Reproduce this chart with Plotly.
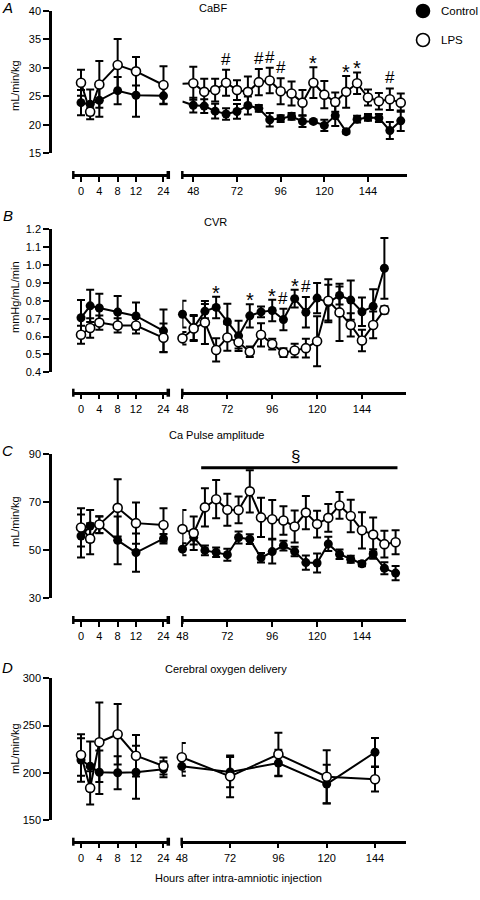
import plotly.graph_objects as go

W, H = 480, 900
FONT = "Liberation Sans, Arial, Helvetica, sans-serif"

# ---------------- data ----------------
hours_left = [0, 2, 4, 8, 12, 24]
hours_6h = [48, 54, 60, 66, 72, 78, 84, 90, 96, 102, 108, 114, 120, 126, 132, 138, 144, 150, 156, 162]
hours_daily = [48, 72, 96, 120, 144]
left_tick_hours = [0, 4, 8, 12, 24]
right_tick_hours = [48, 72, 96, 120, 144]
group_names = ["Control", "LPS"]

# Panel A: CaBF (mL/min/kg)
cabf_ctrl_left = [23.9, 23.6, 24.3, 26.0, 25.2, 25.1]
cabf_ctrl_left_sem = [2.2, 2.6, 2.9, 2.4, 3.8, 1.5]
cabf_lps_left = [27.4, 22.3, 27.1, 30.5, 29.4, 27.0]
cabf_lps_left_sem = [2.3, 0.6, 4.1, 4.6, 2.5, 3.3]
cabf_stub_hour = 42
cabf_ctrl_stub = 24.1
cabf_lps_stub = 27.2
cabf_ctrl_right = [23.45, 23.3, 22.4, 21.9, 22.35, 23.4, 22.9, 20.9, 21.1, 21.5,
                   20.6, 20.6, 19.9, 21.6, 18.8, 21.0, 21.3, 21.2, 19.0, 20.7]
cabf_ctrl_right_sem = [1.3, 1.2, 1.3, 1.0, 1.3, 1.6, 0.6, 1.2, 0.6, 0.6,
                       1.0, 0.3, 1.0, 1.8, 0.3, 0.6, 0.6, 0.7, 1.5, 1.8]
cabf_lps_right = [27.3, 25.8, 26.1, 27.4, 26.1, 25.8, 27.5, 27.8, 25.9, 25.5,
                  23.9, 27.4, 25.3, 24.0, 25.8, 27.3, 24.8, 24.15, 24.5, 23.9]
cabf_lps_right_sem = [2.9, 2.3, 2.0, 2.3, 1.75, 2.7, 2.3, 2.25, 2.3, 2.1,
                      2.2, 2.7, 2.4, 1.7, 2.8, 1.9, 1.4, 1.45, 1.9, 1.6]
cabf_sig_hours = [66, 84, 90, 96, 114, 132, 138, 156]
cabf_sig_marks = ["#", "#", "#", "#", "*", "*", "*", "#"]

# Panel B: CVR (mmHg/mL/min)
cvr_ctrl_left = [0.705, 0.772, 0.76, 0.737, 0.715, 0.632]
cvr_ctrl_left_sem = [0.10, 0.09, 0.08, 0.09, 0.075, 0.12]
cvr_lps_left = [0.61, 0.648, 0.678, 0.662, 0.662, 0.593]
cvr_lps_left_sem = [0.05, 0.055, 0.04, 0.04, 0.045, 0.08]
cvr_ctrl_right = [0.725, 0.65, 0.742, 0.763, 0.683, 0.604, 0.716, 0.738, 0.746, 0.695,
                  0.812, 0.736, 0.815, 0.79, 0.83, 0.804, 0.739, 0.769, 0.982]
cvr_ctrl_right_sem = [0.075, 0.07, 0.04, 0.06, 0.10, 0.085, 0.065, 0.03, 0.06, 0.06,
                      0.05, 0.085, 0.085, 0.10, 0.05, 0.11, 0.08, 0.095, 0.17]
cvr_lps_right = [0.59, 0.645, 0.679, 0.525, 0.595, 0.568, 0.515, 0.61, 0.558, 0.51,
                 0.522, 0.535, 0.574, 0.80, 0.735, 0.665, 0.578, 0.665, 0.749]
cvr_lps_right_sem = [0.035, 0.07, 0.12, 0.065, 0.075, 0.035, 0.03, 0.065, 0.03, 0.025,
                     0.038, 0.052, 0.14, 0.12, 0.16, 0.065, 0.06, 0.075, 0.02]
cvr_sig_hours = [66, 84, 96, 102, 108, 114]
cvr_sig_marks = ["*", "*", "*", "#", "*", "#"]

# Panel C: Ca pulse amplitude (mL/min/kg)
pulse_ctrl_left = [55.8, 60.0, 60.5, 54.0, 48.9, 54.7]
pulse_ctrl_left_sem = [9.0, 6.7, 3.5, 10.0, 8.0, 2.0]
pulse_lps_left = [59.4, 54.7, 60.6, 67.6, 61.2, 60.4]
pulse_lps_left_sem = [8.0, 6.5, 3.5, 12.0, 8.6, 7.0]
pulse_ctrl_right = [50.3, 55.3, 49.8, 49.0, 48.0, 55.2, 54.5, 46.7, 49.3, 51.8,
                    49.3, 44.7, 44.5, 52.5, 48.2, 46.1, 44.2, 48.3, 42.3, 40.3]
pulse_ctrl_right_sem = [2.5, 3.0, 2.0, 2.0, 2.5, 2.5, 2.0, 2.0, 5.0, 2.0,
                        2.0, 3.0, 4.0, 3.0, 2.0, 1.5, 1.0, 2.0, 2.5, 3.0]
pulse_lps_right = [58.7, 57.0, 67.8, 71.2, 66.8, 66.7, 74.5, 63.6, 62.8, 62.3,
                   59.8, 65.6, 60.8, 63.4, 68.6, 64.2, 58.2, 56.4, 52.4, 53.2]
pulse_lps_right_sem = [8.0, 7.0, 8.0, 8.0, 6.7, 5.6, 8.8, 8.2, 8.1, 6.0,
                       6.7, 7.0, 5.6, 5.8, 5.6, 6.8, 7.6, 7.2, 5.6, 5.0]
pulse_sig_span = [58, 163]
pulse_sig_level = 84.4
pulse_sig_mark = "§"

# Panel D: cerebral oxygen delivery (mL/min/kg)
do2_ctrl_left = [213.5, 207.0, 200.5, 200.0, 200.5, 203.8]
do2_ctrl_left_sem = [23, 26, 23, 17.5, 28, 8.5]
do2_lps_left = [218.8, 184.0, 232.3, 240.7, 218.0, 207.2]
do2_lps_left_sem = [22, 17.6, 42, 32, 22, 9]
do2_ctrl_right = [206.8, 200.8, 210.3, 188.0, 221.7]
do2_ctrl_right_sem = [10, 16, 14, 20.5, 15]
do2_lps_right = [216.4, 196.2, 219.6, 195.8, 193.1]
do2_lps_right_sem = [15, 22, 22.8, 28, 13]


def warp_left(h):
    # 0-12 h at full scale, 12-24 h at half scale (as on the original axis)
    return h if h <= 12 else 12 + (h - 12) * 0.5


def py(p):
    return 1 - p / H


def pxx(p):
    return p / W


# ---------------- layout geometry (pixels) ----------------
LEFT_DOM = [73.3, 168.3]
LEFT_RANGE = [-1.68, 19.05]
YAXIS_X = 50

panels = [
    dict(title="CaBF", title_xy=(213, 8), letter="A", letter_xy=(7, 8),
         ylabel="mL/min/kg", ylabel_y=86, ydom=(11, 153.3), yrange=[15, 40],
         yticks=[15, 20, 25, 30, 35, 40], yfmt="d", xaxis_y=175,
         rdom=[182.3, 406.7], rrange=[41.955, 165.27],
         cl=cabf_ctrl_left, cls=cabf_ctrl_left_sem, ll=cabf_lps_left, lls=cabf_lps_left_sem,
         rx=hours_6h, cr=cabf_ctrl_right, crs=cabf_ctrl_right_sem,
         lr=cabf_lps_right, lrs=cabf_lps_right_sem),
    dict(title="CVR", title_xy=(215, 222), letter="B", letter_xy=(8, 215),
         ylabel="mmHg/mL/min", ylabel_y=297, ydom=(229.3, 372.3), yrange=[0.4, 1.2],
         yticks=[0.4, 0.5, 0.6, 0.7, 0.8, 0.9, 1.0, 1.1, 1.2], yfmt=".1f", xaxis_y=392.7,
         rdom=[182.3, 405.7], rrange=[47.9, 167.4],
         cl=cvr_ctrl_left, cls=cvr_ctrl_left_sem, ll=cvr_lps_left, lls=cvr_lps_left_sem,
         rx=hours_6h[:len(cvr_ctrl_right)], cr=cvr_ctrl_right, crs=cvr_ctrl_right_sem,
         lr=cvr_lps_right, lrs=cvr_lps_right_sem),
    dict(title="Ca Pulse amplitude", title_xy=(216, 435), letter="C", letter_xy=(7, 450),
         ylabel="mL/min/kg", ylabel_y=522, ydom=(454.3, 597.7), yrange=[30, 90],
         yticks=[30, 50, 70, 90], yfmt="d", xaxis_y=620,
         rdom=[182.3, 405.7], rrange=[47.9, 167.4],
         cl=pulse_ctrl_left, cls=pulse_ctrl_left_sem, ll=pulse_lps_left, lls=pulse_lps_left_sem,
         rx=hours_6h, cr=pulse_ctrl_right, crs=pulse_ctrl_right_sem,
         lr=pulse_lps_right, lrs=pulse_lps_right_sem),
    dict(title="Cerebral oxygen delivery", title_xy=(226, 669), letter="D", letter_xy=(7, 667),
         ylabel="mL/min/kg", ylabel_y=749, ydom=(678.3, 820), yrange=[150, 300],
         yticks=[150, 200, 250, 300], yfmt="d", xaxis_y=841.7,
         rdom=[181.7, 405.7], rrange=[47.95, 159.25],
         cl=do2_ctrl_left, cls=do2_ctrl_left_sem, ll=do2_lps_left, lls=do2_lps_left_sem,
         rx=hours_daily, cr=do2_ctrl_right, crs=do2_ctrl_right_sem,
         lr=do2_lps_right, lrs=do2_lps_right_sem),
]

axis_common = dict(showline=True, linecolor="black", linewidth=2.5, ticks="outside",
                   tickcolor="black", tickwidth=2, showgrid=False, zeroline=False,
                   automargin=False,
                   tickfont=dict(family=FONT, size=11, color="black"))

ctrl_marker = dict(symbol="circle", size=9, color="black", line=dict(width=0))
lps_marker = dict(symbol="circle", size=9, color="white", line=dict(color="black", width=1.6))
line_style = dict(color="black", width=2)


def err(arr):
    return dict(type="data", array=arr, visible=True, thickness=2, width=4, color="black")


fig = go.Figure()
layout = {}
annotations = []
shapes = []

for i, p in enumerate(panels):
    yn = i + 1
    xl = 2 * i + 1
    xr = 2 * i + 2
    ykey = "yaxis" if yn == 1 else f"yaxis{yn}"
    xlkey = "xaxis" if xl == 1 else f"xaxis{xl}"
    xrkey = f"xaxis{xr}"
    yref = "y" if yn == 1 else f"y{yn}"
    xlref = "x" if xl == 1 else f"x{xl}"
    xrref = f"x{xr}"

    layout[ykey] = dict(axis_common, anchor="free", position=pxx(YAXIS_X),
                        domain=[py(p["ydom"][1]), py(p["ydom"][0])], range=p["yrange"],
                        tickvals=p["yticks"], tickformat=p["yfmt"], ticklen=6)
    layout[xlkey] = dict(axis_common, anchor="free", position=py(p["xaxis_y"]),
                         domain=[pxx(LEFT_DOM[0]), pxx(LEFT_DOM[1])], range=LEFT_RANGE,
                         tickvals=[warp_left(h) for h in left_tick_hours],
                         ticktext=[str(h) for h in left_tick_hours], ticklen=5)
    layout[xrkey] = dict(axis_common, anchor="free", position=py(p["xaxis_y"]),
                         domain=[pxx(p["rdom"][0]), pxx(p["rdom"][1])], range=p["rrange"],
                         tickvals=right_tick_hours, ticktext=[str(h) for h in right_tick_hours],
                         ticklen=5)

    wl = [warp_left(h) for h in hours_left]
    # left segment
    fig.add_trace(go.Scatter(x=wl, y=p["cl"], mode="lines+markers", marker=ctrl_marker,
                             line=line_style, error_y=err(p["cls"]), xaxis=xlref, yaxis=yref,
                             name=group_names[0], showlegend=False, cliponaxis=False))
    fig.add_trace(go.Scatter(x=wl, y=p["ll"], mode="lines+markers", marker=lps_marker,
                             line=line_style, error_y=err(p["lls"]), xaxis=xlref, yaxis=yref,
                             name=group_names[1], showlegend=False, cliponaxis=False))
    # right segment
    if i == 0:
        fig.add_trace(go.Scatter(x=[cabf_stub_hour, p["rx"][0]], y=[cabf_ctrl_stub, p["cr"][0]],
                                 mode="lines", line=line_style, xaxis=xrref, yaxis=yref,
                                 showlegend=False))
        fig.add_trace(go.Scatter(x=[cabf_stub_hour, p["rx"][0]], y=[cabf_lps_stub, p["lr"][0]],
                                 mode="lines", line=line_style, xaxis=xrref, yaxis=yref,
                                 showlegend=False))
    fig.add_trace(go.Scatter(x=p["rx"], y=p["cr"], mode="lines+markers", marker=ctrl_marker,
                             line=line_style, error_y=err(p["crs"]), xaxis=xrref, yaxis=yref,
                             name=group_names[0], showlegend=False, cliponaxis=False))
    fig.add_trace(go.Scatter(x=p["rx"], y=p["lr"], mode="lines+markers", marker=lps_marker,
                             line=line_style, error_y=err(p["lrs"]), xaxis=xrref, yaxis=yref,
                             name=group_names[1], showlegend=False, cliponaxis=False))

    # axis end caps / break marks
    ay = p["xaxis_y"]
    for xcap, wcap in [(LEFT_DOM[0], 2.5), (LEFT_DOM[1], 3.5), (p["rdom"][0], 2.5)]:
        shapes.append(dict(type="line", xref="paper", yref="paper",
                           x0=pxx(xcap), x1=pxx(xcap), y0=py(ay - 4), y1=py(ay + 4),
                           line=dict(color="black", width=wcap)))

    # titles and labels
    annotations.append(dict(text=p["title"], xref="paper", yref="paper",
                            x=pxx(p["title_xy"][0]), y=py(p["title_xy"][1]),
                            xanchor="center", yanchor="middle", showarrow=False,
                            font=dict(family=FONT, size=11, color="black")))
    annotations.append(dict(text=f"<i>{p['letter']}</i>", xref="paper", yref="paper",
                            x=pxx(p["letter_xy"][0]), y=py(p["letter_xy"][1]),
                            xanchor="center", yanchor="middle", showarrow=False,
                            font=dict(family=FONT, size=15, color="black")))
    annotations.append(dict(text=p["ylabel"], xref="paper", yref="paper",
                            x=pxx(15), y=py(p["ylabel_y"]), textangle=-90,
                            xanchor="center", yanchor="middle", showarrow=False,
                            font=dict(family=FONT, size=11, color="black")))


def sig_annotations(hours, marks, xh, yv, sem, xref, yref):
    for h, m in zip(hours, marks):
        k = xh.index(h)
        star = m == "*"
        annotations.append(dict(text=m, x=h, y=yv[k] + sem[k], xref=xref, yref=yref,
                                xanchor="center", yanchor="bottom", showarrow=False,
                                yshift=-9 if star else -1,
                                font=dict(family=FONT, size=20 if star else 17, color="black")))


sig_annotations(cabf_sig_hours, cabf_sig_marks, hours_6h, cabf_lps_right, cabf_lps_right_sem, "x2", "y")
sig_annotations(cvr_sig_hours, cvr_sig_marks, hours_6h, cvr_ctrl_right, cvr_ctrl_right_sem, "x4", "y2")

# Panel C significance bar
shapes.append(dict(type="line", xref="x6", yref="y3", x0=pulse_sig_span[0], x1=pulse_sig_span[1],
                   y0=pulse_sig_level, y1=pulse_sig_level, line=dict(color="black", width=3)))
annotations.append(dict(text=pulse_sig_mark, x=(pulse_sig_span[0] + pulse_sig_span[1]) / 2 - 2,
                        y=pulse_sig_level, xref="x6", yref="y3", xanchor="center",
                        yanchor="bottom", showarrow=False, yshift=0,
                        font=dict(family=FONT, size=17, color="black")))

# x axis title
annotations.append(dict(text="Hours after intra-amniotic injection", xref="paper", yref="paper",
                        x=pxx(238), y=py(878), xanchor="center", yanchor="middle", showarrow=False,
                        font=dict(family=FONT, size=11, color="black")))

# key (top right): symbol + label for each group
key_rows = [(11, "black"), (40, "white")]
for name, (ky, fillc) in zip(group_names, key_rows):
    r = 6.5
    shapes.append(dict(type="circle", xref="paper", yref="paper",
                       x0=pxx(423 - r), x1=pxx(423 + r), y0=py(ky + r), y1=py(ky - r),
                       fillcolor=fillc, line=dict(color="black", width=1.6)))
    annotations.append(dict(text=name, xref="paper", yref="paper", x=pxx(439), y=py(ky),
                            xanchor="left", yanchor="middle", showarrow=False,
                            font=dict(family=FONT, size=11.5, color="black")))

fig.update_layout(
    width=W, height=H, margin=dict(l=0, r=0, t=0, b=0, autoexpand=False),
    paper_bgcolor="white", plot_bgcolor="white",
    font=dict(family=FONT, size=11, color="black"),
    showlegend=False,
    annotations=annotations, shapes=shapes,
    **layout,
)

fig.write_html("out.html", config={"displayModeBar": False},
               post_script="document.body.style.margin='0px';document.body.style.padding='0px';")
